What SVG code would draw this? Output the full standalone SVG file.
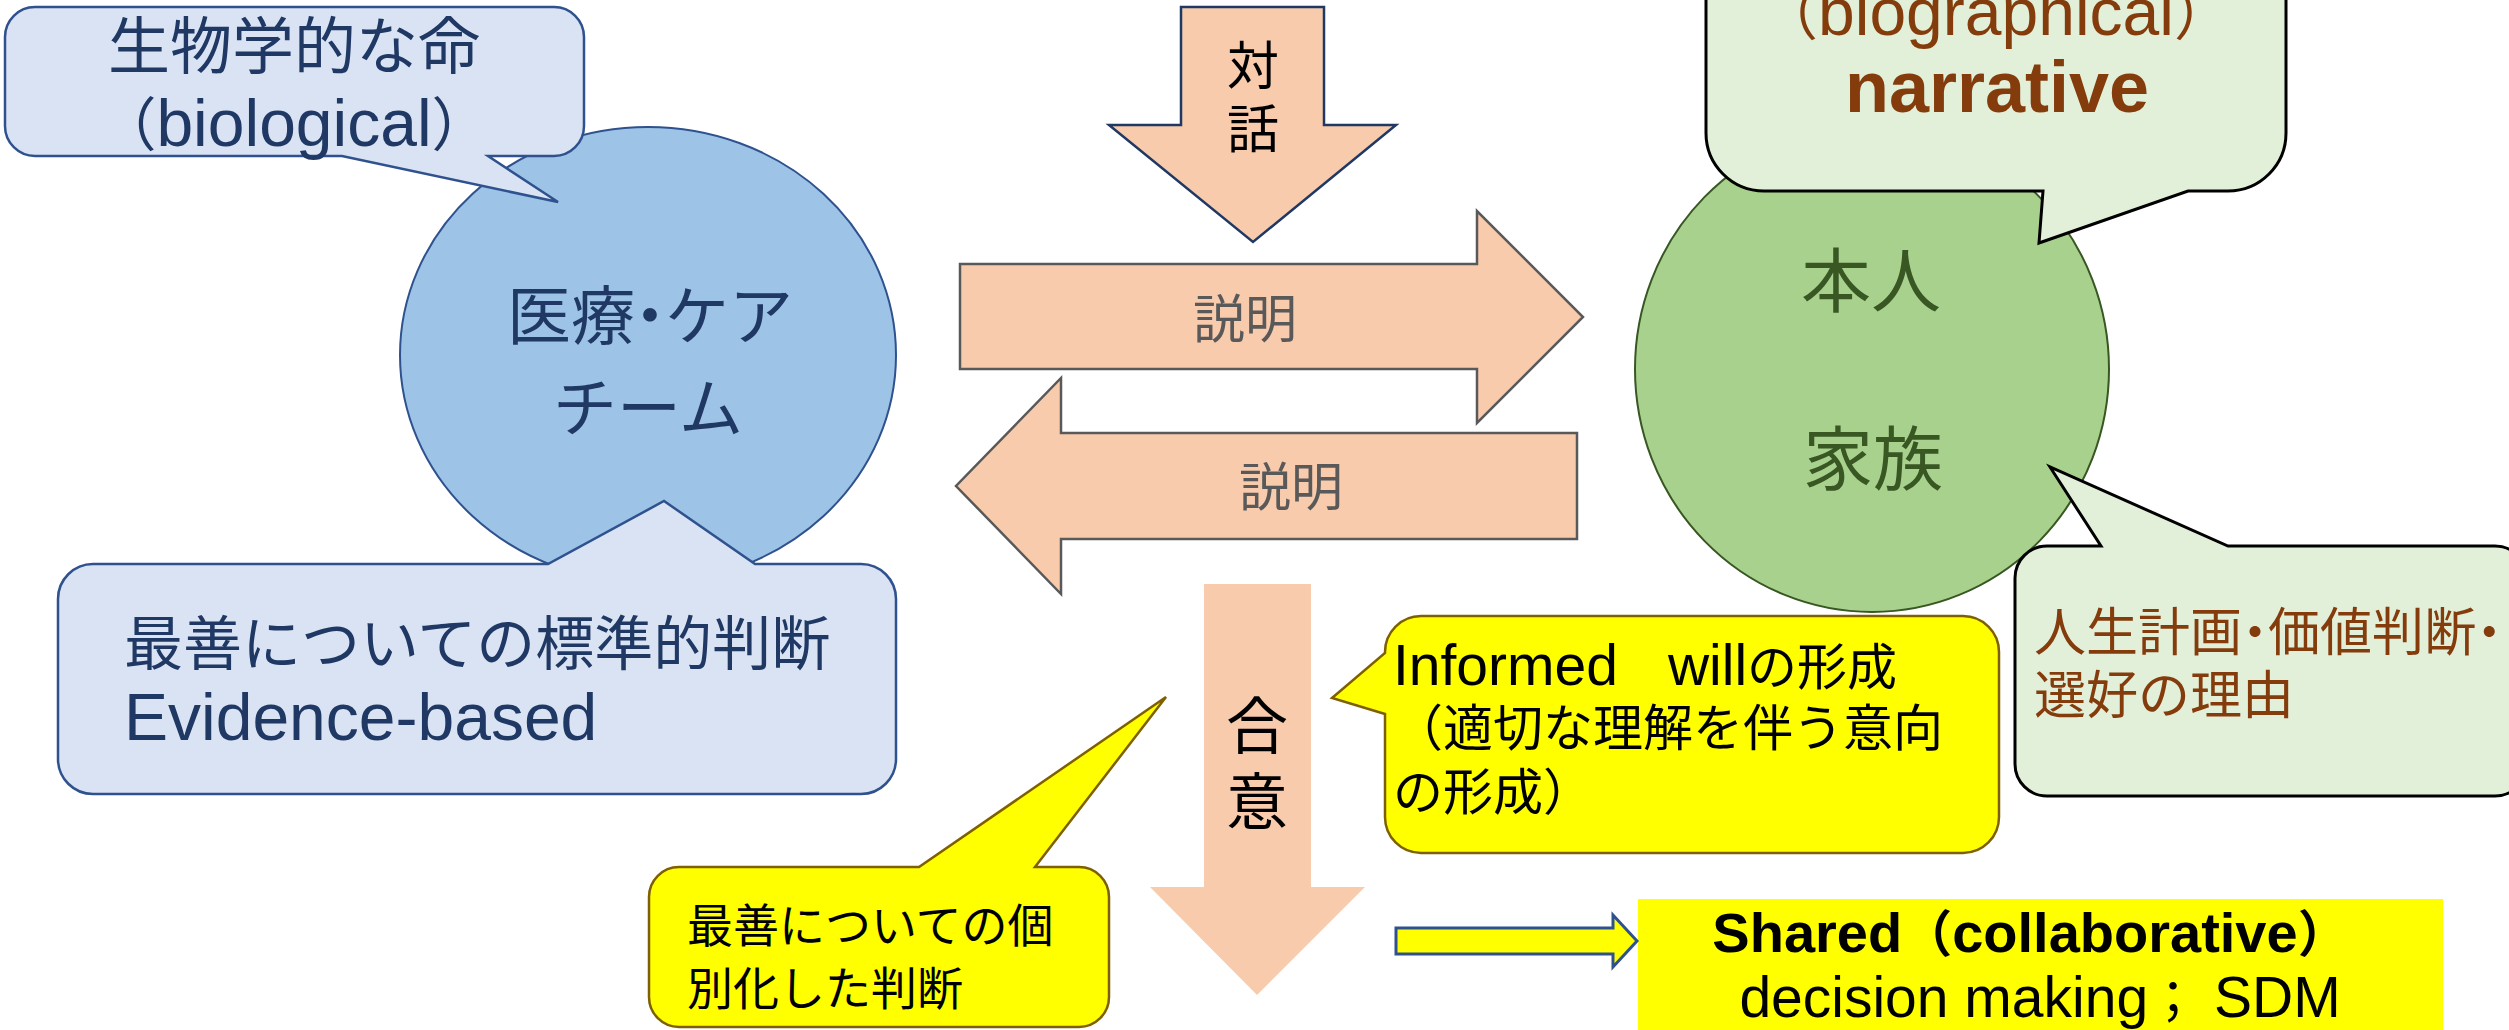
<svg xmlns="http://www.w3.org/2000/svg" width="2509" height="1030" viewBox="0 0 2509 1030">
<style>
text{font-family:"Liberation Sans","Noto Sans CJK JP",sans-serif;}
.navy{fill:#1F3864;}
.brown{fill:#843C0C;}
.dkgreen{fill:#385723;}
.blk{fill:#000000;}
.gray{fill:#595959;}
.bluecall{fill:#DAE3F3;stroke:#2F528F;stroke-width:2.5;}
.greencall{fill:#E2F0D9;stroke:#000000;stroke-width:3;}
.yellowcall{fill:#FFFF00;stroke:#7F6000;stroke-width:2.5;}
.peach{fill:#F8CBAD;}
.mid{text-anchor:middle;}
</style>

<!-- main nodes -->
<g id="node-care-team">
  <ellipse cx="648" cy="355" rx="248" ry="228" fill="#9DC3E6" stroke="#2F528F" stroke-width="2"/>
  <text x="650" y="339" font-size="64" class="navy mid" dx="0 0 -17 -17 0">医療・ケア</text>
  <text x="648" y="431" font-size="64" class="navy mid">チーム</text>
</g>

<g id="node-patient-family">
  <ellipse cx="1872" cy="369" rx="237" ry="243" fill="#A9D18E" stroke="#385723" stroke-width="2"/>
  <text x="1871" y="307" font-size="70" class="dkgreen mid">本人</text>
  <text x="1873" y="485" font-size="70" class="dkgreen mid">家族</text>
</g>

<!-- callouts -->
<g id="callout-biological">
  <path class="bluecall" d="M35,7 H554 A30 30 0 0 1 584 37 V126 A30 30 0 0 1 554 156 H488 L558 202 L342 156 H35 A30 30 0 0 1 5 126 V37 A30 30 0 0 1 35 7 Z"/>
  <text x="294" y="69" font-size="62" class="navy mid">生物学的な命</text>
  <text x="294" y="146" font-size="66" class="navy mid"><tspan font-size="58">（</tspan>biological<tspan font-size="58">）</tspan></text>
</g>

<g id="callout-standard">
  <path class="bluecall" d="M93,564 H548 L664 501 L755 564 H861 A35 35 0 0 1 896 599 V759 A35 35 0 0 1 861 794 H93 A35 35 0 0 1 58 759 V599 A35 35 0 0 1 93 564 Z"/>
  <text x="124" y="665" font-size="59" class="navy">最善についての標準的判断</text>
  <text x="124" y="740" font-size="66" class="navy">Evidence-based</text>
</g>

<g id="callout-narrative">
  <path class="greencall" d="M1764,-150 H2228 A58 58 0 0 1 2286 -92 V133 A58 58 0 0 1 2228 191 H2188 L2039 243 L2043 191 H1764 A58 58 0 0 1 1706 133 V-92 A58 58 0 0 1 1764 -150 Z"/>
  <text x="1996" y="35" font-size="66" class="brown mid"><tspan font-size="58">（</tspan>biographical<tspan font-size="58">）</tspan></text>
  <text x="1997" y="112" font-size="72" font-weight="bold" class="brown mid">narrative</text>
</g>

<g id="callout-life-plan">
  <path class="greencall" d="M2047,546 H2101 L2050 467 L2228 546 H2495 A32 32 0 0 1 2527 578 V764 A32 32 0 0 1 2495 796 H2047 A32 32 0 0 1 2015 764 V578 A32 32 0 0 1 2047 546 Z"/>
  <text x="2034" y="651" font-size="52" class="brown" dx="0 0 0 0 -13 -13 0 0 0 -13">人生計画・価値判断・</text>
  <text x="2034" y="714" font-size="52" class="brown">選好の理由</text>
</g>

<g id="callout-informed-will">
  <path class="yellowcall" d="M1421,616 H1963 A36 36 0 0 1 1999 652 V817 A36 36 0 0 1 1963 853 H1421 A36 36 0 0 1 1385 817 V714 L1332 698 L1385 653 V652 A36 36 0 0 1 1421 616 Z"/>
  <text x="1393" y="685" font-size="50" class="blk"><tspan font-size="57">Informed</tspan>　<tspan font-size="57">will</tspan>の形成</text>
  <text x="1393" y="746" font-size="50" class="blk">（適切な理解を伴う意向</text>
  <text x="1393" y="810" font-size="50" class="blk">の形成）</text>
</g>

<g id="callout-individualized">
  <path class="yellowcall" d="M679,867 H919 L1166 697 L1035 867 H1079 A30 30 0 0 1 1109 897 V997 A30 30 0 0 1 1079 1027 H679 A30 30 0 0 1 649 997 V897 A30 30 0 0 1 679 867 Z"/>
  <text x="687" y="942" font-size="46" class="blk">最善についての個</text>
  <text x="687" y="1005" font-size="46" class="blk">別化した判断</text>
</g>

<g id="node-sdm">
  <rect x="1638" y="899" width="805" height="140" fill="#FFFF00"/>
  <text x="2030" y="952" font-size="56" font-weight="bold" class="blk mid">Shared<tspan font-size="50">（</tspan>collaborative<tspan font-size="50">）</tspan></text>
  <text x="2040" y="1017" font-size="57" class="blk mid">decision making<tspan font-size="50">；</tspan> SDM</text>
</g>

<!-- connectors (block arrows) -->
<g id="connectors">
  <g id="arrow-dialogue">
    <path class="peach" stroke="#1F3864" stroke-width="2.5" d="M1181,7 H1324 V125 H1396 L1253 242 L1109 125 H1181 Z"/>
    <text x="1253" y="85" font-size="52" class="blk mid">対</text>
    <text x="1253" y="148" font-size="52" class="blk mid">話</text>
  </g>
  <g id="arrow-explain-right">
    <path class="peach" stroke="#595959" stroke-width="2.5" d="M960,264 H1477 V211 L1583 317 L1477 423 V369 H960 Z"/>
    <text x="1245" y="338" font-size="52" class="gray mid">説明</text>
  </g>
  <g id="arrow-explain-left">
    <path class="peach" stroke="#595959" stroke-width="2.5" d="M1577,433 H1061 V378 L956 486 L1061 594 V539 H1577 Z"/>
    <text x="1291" y="506" font-size="52" class="gray mid">説明</text>
  </g>
  <g id="arrow-consensus">
    <path class="peach" d="M1204,584 H1311 V887 H1365 L1257 995 L1150 887 H1204 Z"/>
    <text x="1257" y="749" font-size="62" class="blk mid">合</text>
    <text x="1257" y="825" font-size="62" class="blk mid">意</text>
  </g>
  <g id="arrow-to-sdm">
    <path fill="#FFFF00" stroke="#2F528F" stroke-width="3" d="M1396,928 H1613 V915 L1637 941 L1613 967 V954 H1396 Z"/>
  </g>
</g>
</svg>
